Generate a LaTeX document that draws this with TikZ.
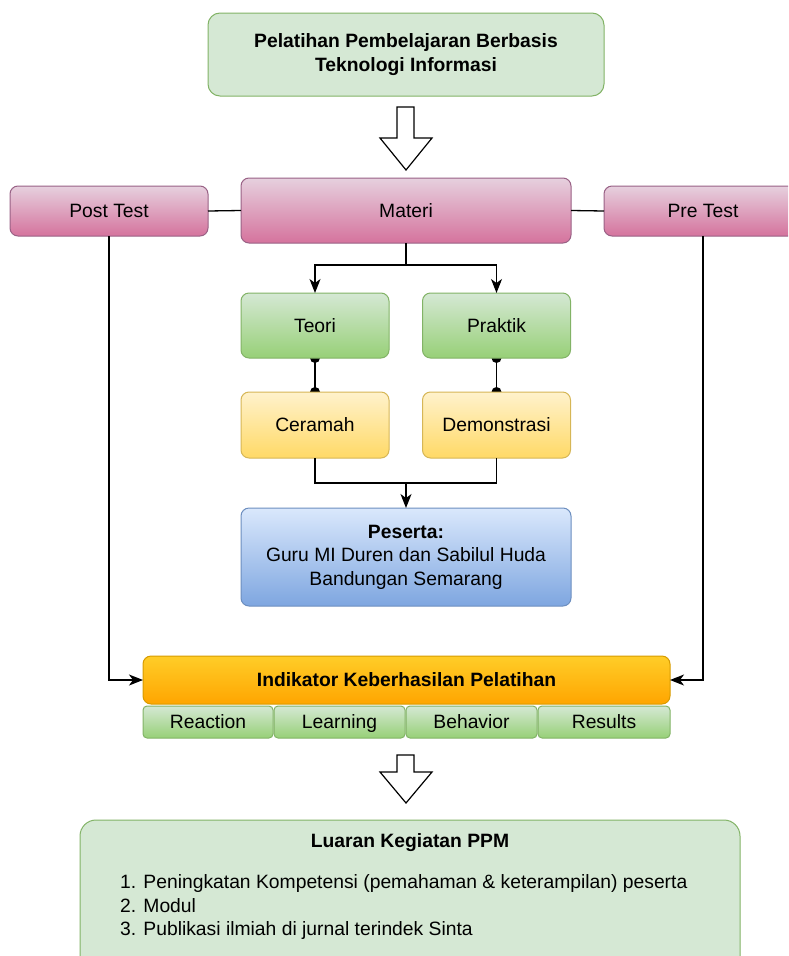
\documentclass[tikz,border=0pt]{standalone}
\usepackage{fontspec}
\setmainfont{Liberation Sans}
\usetikzlibrary{arrows.meta,backgrounds}
\definecolor{gfill}{HTML}{D5E8D4}
\definecolor{gdark}{HTML}{97D077}
\definecolor{gline}{HTML}{82B366}
\definecolor{pfill}{HTML}{E6D0DE}
\definecolor{pdark}{HTML}{D5739D}
\definecolor{pline}{HTML}{996185}
\definecolor{yfill}{HTML}{FFF2CC}
\definecolor{ydark}{HTML}{FFD966}
\definecolor{yline}{HTML}{D6B656}
\definecolor{bfill}{HTML}{DAE8FC}
\definecolor{bdark}{HTML}{7EA6E0}
\definecolor{bline}{HTML}{6C8EBF}
\definecolor{ofill}{HTML}{FFCD28}
\definecolor{odark}{HTML}{FFA500}
\definecolor{oline}{HTML}{D79B00}
\begin{document}
\begin{tikzpicture}[x=1pt,y=-1pt,
  base/.style={rounded corners=8pt, line width=1pt, align=center, inner sep=0pt, outer sep=0pt,
    font=\fontsize{19.3}{23.5}\selectfont, text=black},
  oneline/.style={text height=15pt, text depth=1.5pt},
  greenflat/.style={base, draw=gline, fill=gfill},
  greenbox/.style={base, draw=gline, top color=gfill, bottom color=gdark},
  pinkbox/.style={base, oneline, draw=pline, top color=pfill, bottom color=pdark},
  yellowbox/.style={base, oneline, draw=yline, top color=yfill, bottom color=ydark},
  bluebox/.style={base, draw=bline, top color=bfill, bottom color=bdark},
  orangebox/.style={base, oneline, draw=oline, top color=ofill, bottom color=odark},
  cell/.style={greenbox, oneline, rounded corners=4pt, minimum width=130pt, minimum height=32pt},
  conn/.style={line width=1.3pt, draw=black},
  arr/.style={conn, -{Stealth[length=14pt,width=11pt,inset=4pt]}},
  blockarrow/.style={line width=1.2pt, draw=black, fill=white, line join=miter},
  lbl/.style={inner sep=0pt, font=\fontsize{19.3}{23.5}\selectfont, text=black}
]
\useasboundingbox (0,0) rectangle (788,956);
\clip (0,0) rectangle (788,956);

% top box
\node[greenflat, rounded corners=12pt, minimum width=396pt, minimum height=83pt] (top) at (406,54.5)
  {\bfseries Pelatihan Pembelajaran Berbasis\\\bfseries Teknologi Informasi};

% block arrow 1
\draw[blockarrow] (397,107) -- (414,107) -- (414,138) -- (432,138) -- (406,170) -- (380,138) -- (397,138) -- cycle;

% row: post test, materi, pre test
\node[pinkbox, minimum width=198pt, minimum height=50pt] (post) at (109,211) {Post Test};
\node[pinkbox, minimum width=330pt, minimum height=65pt] (materi) at (406,210.5) {Materi};
\node[pinkbox, minimum width=198pt, minimum height=50pt] (pre) at (703,211) {Pre Test};

% teori / praktik
\node[greenbox, oneline, minimum width=148pt, minimum height=65pt] (teori) at (315,325.5) {Teori};
\node[greenbox, oneline, minimum width=148pt, minimum height=65pt] (praktik) at (496.5,325.5) {Praktik};

% ceramah / demonstrasi
\node[yellowbox, minimum width=148pt, minimum height=66pt] (ceramah) at (315,425) {Ceramah};
\node[yellowbox, minimum width=148pt, minimum height=66pt] (demo) at (496.5,425) {Demonstrasi};

% peserta
\node[bluebox, minimum width=330pt, minimum height=98pt] (peserta) at (406,557)
  {\bfseries Peserta:\\Guru MI Duren dan Sabilul Huda\\Bandungan Semarang};

% indikator
\node[orangebox, minimum width=527pt, minimum height=48pt] (ind) at (406.5,680)
  {\bfseries Indikator Keberhasilan Pelatihan};
\node[cell] (c1) at (208,722) {Reaction};
\node[cell, minimum width=131pt] (c2) at (339.5,722) {Learning};
\node[cell, minimum width=131pt] (c3) at (471.5,722) {Behavior};
\node[cell, minimum width=132pt] (c4) at (604,722) {Results};

% block arrow 2
\draw[blockarrow] (397,755) -- (414,755) -- (414,772) -- (432,772) -- (406,803) -- (380,772) -- (397,772) -- cycle;

% output box
\node[greenflat, rounded corners=16pt, minimum width=660pt, minimum height=170pt, anchor=north west] (out) at (80,820) {};
\node[lbl, font=\fontsize{19.3}{23.5}\selectfont\bfseries] (outT) at (410,843) {Luaran Kegiatan PPM};
\node[lbl, align=left, anchor=west] (outL) at (120,907)
  {1. Peningkatan Kompetensi (pemahaman \& keterampilan) peserta\\2. Modul\\3. Publikasi ilmiah di jurnal terindek Sinta};

% connectors
\draw[conn] (post.east) -- (materi.west);
\draw[conn] (materi.east) -- (pre.west);
\draw[arr] (post.south) |- (ind.west);
\draw[arr] (pre.south) |- (ind.east);
\coordinate (m1) at (406,265);
\draw[conn] (materi.south) -- (m1);
\draw[arr] (m1) -| (teori.north);
\draw[arr] (m1) -| (praktik.north);
\coordinate (j1) at (406,483);
\draw[conn] (ceramah.south) |- (j1) -| (demo.south);
\draw[arr] (j1) -- (peserta.north);
\begin{pgfonlayer}{background}
  \draw[conn] (teori.south) -- (ceramah.north);
  \fill (teori.south) circle (5pt);
  \fill (ceramah.north) circle (5pt);
  \draw[conn] (praktik.south) -- (demo.north);
  \fill (praktik.south) circle (5pt);
  \fill (demo.north) circle (5pt);
\end{pgfonlayer}
\end{tikzpicture}
\end{document}
